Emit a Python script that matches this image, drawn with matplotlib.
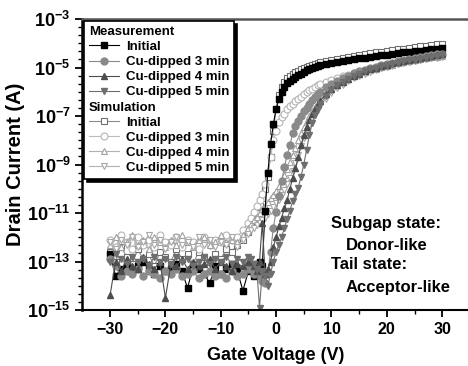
import numpy as np
import matplotlib
matplotlib.use("Agg")
import matplotlib.pyplot as plt
from matplotlib.lines import Line2D
from matplotlib.ticker import FixedLocator, FuncFormatter, NullFormatter

plt.rcParams['font.family'] = ['Liberation Sans', 'DejaVu Sans']
plt.rcParams['font.weight'] = 'bold'
plt.rcParams['mathtext.fontset'] = 'custom'
plt.rcParams['mathtext.rm'] = 'Liberation Sans:bold'
plt.rcParams['mathtext.bf'] = 'Liberation Sans:bold'

# gate voltage sweep (V): off region / transition / on region
vg = ([-30, -29, -28, -27, -26, -25, -24, -23, -22, -21, -20, -19, -18, -17, -16,
       -15, -14, -13, -12, -11, -10, -9, -8, -7, -6, -5]
      + [-4.5, -4, -3.5, -3, -2.5, -2, -1.5, -1, -0.5, 0, 0.5, 1, 1.5, 2, 2.5,
         3, 3.5, 4, 4.5, 5, 5.5, 6, 6.5, 7, 7.5, 8]
      + [9, 10, 11, 12, 13, 14, 15, 16, 17, 18, 19, 20, 21, 22, 23, 24, 25, 26,
         27, 28, 29, 30])

# log10 of drain current (A)
meas_init = ([-12.7, -13.6, -13.3, -13.1, -13.4, -13.2, -13.0, -13.3, -13.5, -13.2, -13.4, -13.3, -13.1,
              -13.4, -14.1, -13.2, -13.3, -13.5, -13.9, -13.2, -13.5, -13.3, -13.1, -13.4, -14.2, -13.4]
             + [-13.2, -13.6, -13.1, -13.0, -13.2, -10.9, -9.35, -8.15, -7.33, -6.71, -6.30, -6.00, -5.80,
                -5.65, -5.55, -5.47, -5.40, -5.32, -5.25, -5.18, -5.12, -5.07, -5.02, -4.98, -4.94, -4.90]
             + [-4.85, -4.81, -4.77, -4.73, -4.70, -4.66, -4.62, -4.59, -4.56, -4.53, -4.50, -4.47, -4.44,
                -4.41, -4.38, -4.35, -4.32, -4.30, -4.27, -4.24, -4.22, -4.20])
meas_3min = ([-12.9, -13.2, -13.6, -13.4, -13.5, -13.3, -13.6, -13.4, -13.5, -13.7, -13.4, -13.5, -13.3,
              -13.6, -13.5, -13.4, -13.7, -13.5, -13.4, -13.6, -13.5, -13.7, -13.4, -13.6, -13.5, -13.3]
             + [-13.3, -13.5, -13.4, -13.6, -13.8, -13.9, -13.5, -12.6, -11.6, -10.95, -10.3, -9.7, -9.1,
                -8.6, -8.2, -7.7, -7.4, -7.2, -7.0, -6.8, -6.65, -6.5, -6.35, -6.22, -6.1, -5.99]
             + [-5.82, -5.67, -5.54, -5.43, -5.33, -5.24, -5.16, -5.09, -5.02, -4.96, -4.90, -4.85, -4.80,
                -4.75, -4.70, -4.66, -4.62, -4.58, -4.54, -4.50, -4.46, -4.43])
meas_4min = ([-14.4, -13.0, -13.4, -12.9, -13.2, -13.3, -12.8, -13.1, -13.3, -13.0, -14.5, -13.1, -13.2,
              -12.9, -13.3, -13.0, -13.2, -13.1, -12.9, -13.3, -13.0, -13.2, -13.4, -13.1, -13.2, -13.0]
             + [-13.0, -13.2, -13.4, -13.0, -11.4, -13.5, -13.3, -13.0, -12.4, -12.0, -11.55, -11.2, -10.8,
                -10.45, -10.0, -9.55, -9.15, -8.7, -8.2, -7.8, -7.45, -7.15, -6.9, -6.7, -6.52, -6.36]
             + [-6.10, -5.90, -5.73, -5.58, -5.46, -5.35, -5.25, -5.16, -5.08, -5.01, -4.95, -4.89, -4.83,
                -4.78, -4.73, -4.68, -4.64, -4.60, -4.56, -4.52, -4.48, -4.45])
meas_5min = ([-13.0, -12.7, -12.9, -13.1, -12.8, -13.0, -12.9, -13.2, -12.8, -13.0, -12.9, -13.1, -12.8,
              -13.0, -12.9, -13.2, -13.0, -12.8, -13.1, -12.9, -13.0, -12.8, -13.1, -12.9, -13.0, -12.8]
             + [-12.9, -13.1, -13.3, -14.9, -13.4, -13.6, -14.0, -13.5, -13.0, -12.6, -12.3, -12.0, -11.6,
                -11.25, -10.9, -10.5, -10.2, -9.95, -9.5, -9.0, -8.4, -7.8, -7.3, -6.95, -6.7, -6.5]
             + [-6.17, -5.93, -5.74, -5.59, -5.46, -5.35, -5.25, -5.16, -5.08, -5.01, -4.95, -4.90, -4.85,
                -4.80, -4.75, -4.71, -4.67, -4.63, -4.59, -4.56, -4.53, -4.50])
sim_init = ([-12.6, -13.0, -12.4, -12.8, -13.1, -12.5, -12.9, -12.7, -13.2, -12.6, -12.8, -13.0, -12.5,
             -12.9, -12.7, -13.1, -12.6, -12.8, -13.0, -12.7, -12.9, -12.5, -12.6, -12.3, -12.1, -11.8]
            + [-11.5, -11.3, -11.0, -10.7, -10.4, -10.0, -9.5, -8.7, -7.6, -6.7, -6.15, -5.8, -5.6,
               -5.45, -5.35, -5.27, -5.2, -5.13, -5.07, -5.02, -4.97, -4.93, -4.89, -4.85, -4.82, -4.79]
            + [-4.74, -4.69, -4.64, -4.60, -4.56, -4.52, -4.48, -4.44, -4.41, -4.37, -4.34, -4.31, -4.28,
               -4.25, -4.22, -4.19, -4.16, -4.13, -4.11, -4.08, -4.05, -4.03])
sim_3min = ([-12.1, -12.4, -11.9, -12.2, -12.5, -12.0, -12.3, -12.1, -12.4, -11.9, -12.2, -12.3, -12.0,
             -12.4, -12.1, -12.2, -12.5, -12.0, -12.3, -12.1, -12.2, -11.9, -12.1, -12.0, -11.7, -11.4]
            + [-11.2, -10.95, -10.7, -10.45, -10.2, -9.8, -9.3, -8.7, -8.0, -7.6, -7.25, -7.05, -6.9,
               -6.7, -6.6, -6.5, -6.4, -6.3, -6.2, -6.1, -6.02, -5.94, -5.87, -5.8, -5.74, -5.68]
            + [-5.60, -5.52, -5.44, -5.37, -5.30, -5.24, -5.18, -5.12, -5.07, -5.02, -4.97, -4.92, -4.87,
               -4.83, -4.78, -4.74, -4.69, -4.65, -4.61, -4.57, -4.53, -4.49])
sim_4min = ([-12.3, -12.0, -12.4, -12.2, -11.9, -12.3, -12.1, -12.5, -12.0, -12.2, -12.4, -12.1, -12.3,
             -11.9, -12.2, -12.4, -12.1, -12.0, -12.3, -12.2, -11.9, -12.2, -12.1, -12.2, -11.9, -11.6]
            + [-11.45, -11.3, -11.15, -11.0, -10.85, -10.7, -10.55, -10.4, -10.25, -10.1, -9.9, -9.7, -9.45,
               -9.2, -8.9, -8.6, -8.3, -8.0, -7.7, -7.45, -7.2, -7.0, -6.8, -6.62, -6.47, -6.33]
            + [-6.08, -5.88, -5.72, -5.58, -5.46, -5.36, -5.27, -5.19, -5.12, -5.05, -4.99, -4.93, -4.88,
               -4.83, -4.78, -4.74, -4.70, -4.66, -4.62, -4.58, -4.55, -4.52])
sim_5min = ([-12.2, -12.5, -12.1, -12.3, -12.0, -12.4, -12.2, -11.9, -12.3, -12.1, -12.5, -12.2, -12.0,
             -12.3, -12.2, -12.4, -12.0, -12.3, -12.1, -12.4, -12.2, -12.3, -12.0, -12.4, -12.1, -11.85]
            + [-11.7, -11.6, -11.5, -11.4, -11.3, -11.2, -11.05, -10.9, -10.75, -10.6, -10.45, -10.25, -10.05,
               -9.8, -9.55, -9.25, -8.95, -8.6, -8.25, -7.9, -7.6, -7.35, -7.12, -6.92, -6.74, -6.58]
            + [-6.30, -6.06, -5.86, -5.70, -5.56, -5.44, -5.34, -5.25, -5.17, -5.10, -5.03, -4.97, -4.92,
               -4.87, -4.82, -4.78, -4.74, -4.70, -4.66, -4.62, -4.59, -4.56])

labels = ["Initial", "Cu-dipped 3 min", "Cu-dipped 4 min", "Cu-dipped 5 min"]
notes = ["Subgap state:", "Donor-like", "Tail state:", "Acceptor-like"]

fig = plt.figure(figsize=(4.68, 3.66), dpi=100)
ax = fig.add_axes([0.176, 0.153, 0.828, 0.795])

# simulation: open markers, light lines
sim_styles = [('s', '#707070', '#8c8c8c'), ('o', '#b4b4b4', '#bcbcbc'),
              ('^', '#a0a0a0', '#b0b0b0'), ('v', '#a8a8a8', '#b4b4b4')]
sim_lines = []
for data, (mk, ec, lc) in zip([sim_init, sim_3min, sim_4min, sim_5min], sim_styles):
    ln, = ax.semilogy(vg, 10 ** np.array(data), color=lc, lw=0.8, marker=mk, ms=5,
                      mfc='white', mec=ec, mew=0.8)
    sim_lines.append(ln)

# measurement: filled markers
meas_styles = [('s', 'black'), ('o', '#8a8a8a'), ('^', '#4d4d4d'), ('v', '#6e6e6e')]
meas_lines = []
for data, (mk, c) in zip([meas_init, meas_3min, meas_4min, meas_5min], meas_styles):
    ln, = ax.semilogy(vg, 10 ** np.array(data), color=c, lw=0.8, marker=mk, ms=5,
                      mfc=c, mec=c)
    meas_lines.append(ln)

ax.set_xlim(-35, 35)
ax.set_ylim(1e-15, 1e-3)
ax.set_xticks([-30, -20, -10, 0, 10, 20, 30])
ax.xaxis.set_minor_locator(FixedLocator([-25, -15, -5, 5, 15, 25]))
ax.yaxis.set_major_locator(FixedLocator([10.0 ** e for e in range(-15, -2, 2)]))
ax.yaxis.set_minor_locator(FixedLocator([10.0 ** (-15 + k / 3) for k in range(37)]))
ax.yaxis.set_major_formatter(FuncFormatter(
    lambda v, p: r'$\mathbf{10^{%d}}$' % int(round(np.log10(v)))))
ax.yaxis.set_minor_formatter(NullFormatter())
ax.tick_params(axis='x', which='major', labelsize=11.5, length=5, width=1.3, direction='out')
ax.tick_params(axis='y', which='major', labelsize=13, length=5, width=1.3, direction='out')
ax.tick_params(which='minor', length=3, width=1.0, direction='out')
for lab in ax.get_xticklabels():
    lab.set_fontweight('bold')

ax.spines['right'].set_visible(False)
ax.spines['left'].set_linewidth(1.8)
ax.spines['bottom'].set_linewidth(1.5)
ax.spines['top'].set_linewidth(1.8)
ax.spines['top'].set_color('#555555')

ax.set_xlabel("Gate Voltage (V)", fontsize=13, fontweight='bold', labelpad=7)
ax.set_ylabel("Drain Current (A)", fontsize=14.5, fontweight='bold', labelpad=2)

# annotation block at lower right
ax.text(0.642, 0.299, notes[0], transform=ax.transAxes, fontsize=12, va='center')
ax.text(0.680, 0.223, notes[1], transform=ax.transAxes, fontsize=12, va='center')
ax.text(0.642, 0.155, notes[2], transform=ax.transAxes, fontsize=12, va='center')
ax.text(0.680, 0.079, notes[3], transform=ax.transAxes, fontsize=12, va='center')

# legend with two header rows
blank = Line2D([], [], linestyle='none')
handles = [blank] + meas_lines + [blank] + sim_lines
names = ["Measurement"] + labels + ["Simulation"] + labels
leg_fs = 9.5
leg = ax.legend(handles, names, loc='upper left', bbox_to_anchor=(0.0, 1.0),
                borderaxespad=0.15, fontsize=leg_fs, numpoints=1, handlelength=2.3,
                handletextpad=0.5, labelspacing=0.22, borderpad=0.35,
                fancybox=False, framealpha=1, edgecolor='black',
                shadow={'color': 'black', 'alpha': 1})
leg.get_frame().set_linewidth(1.2)
shift = (2.3 + 0.5) * leg_fs * fig.dpi / 72
for i in (0, 5):
    leg.get_texts()[i].set_x(-shift)

fig.savefig("out.png", dpi=100)
